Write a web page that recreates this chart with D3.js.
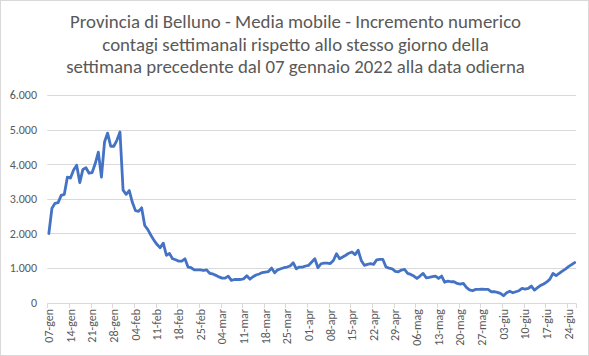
<!DOCTYPE html>
<html>
<head>
<meta charset="utf-8">
<script src="https://cdn.jsdelivr.net/npm/d3@7"></script>
<style>
  html, body { margin: 0; padding: 0; background: #fff; }
  svg { display: block; }
  text { font-family: Carlito, Calibri, Lato, "Open Sans", sans-serif; fill: #595959; }
</style>
</head>
<body>
<svg id="chart" width="589" height="356"></svg>
<script>
// ---- data ----
const titleLines = [
  "Provincia di Belluno - Media mobile - Incremento numerico",
  "contagi settimanali rispetto allo stesso giorno della",
  "settimana precedente dal 07 gennaio 2022 alla data odierna"
];
const startDate = "2022-01-07";
// daily values, 07-gen ... 26-giu
const values = [
  2000, 2730, 2870, 2890, 3100, 3130, 3630, 3600, 3830, 3970,
  3470, 3850, 3900, 3740, 3760, 4020, 4350, 3630, 4640, 4900,
  4520, 4520, 4690, 4930, 3250, 3130, 3240, 2900, 2660, 2640,
  2740, 2230, 2110, 1950, 1800, 1680, 1590, 1720, 1370, 1420,
  1270, 1240, 1200, 1200, 1270, 1030, 1010, 950, 950, 950,
  930, 950, 850, 830, 790, 745, 710, 710, 767, 645,
  670, 670, 670, 690, 780, 680, 750, 800, 830, 870,
  885, 900, 1000, 864, 950, 980, 1010, 1030, 1060, 1155,
  980, 1029, 1029, 1060, 1080, 1175, 1270, 1010, 1125, 1145,
  1145, 1130, 1220, 1415, 1270, 1320, 1370, 1430, 1465, 1390,
  1515, 1220, 1080, 1107, 1126, 1107, 1240, 1250, 1250, 1030,
  1000, 980, 905, 894, 942, 960, 846, 817, 770, 700,
  770, 846, 720, 730, 750, 770, 700, 770, 590, 625,
  605, 605, 557, 540, 557, 440, 370, 346, 385, 385,
  390, 385, 385, 317, 317, 298, 270, 202, 288, 330,
  288, 317, 346, 413, 394, 413, 480, 365, 433, 500,
  540, 600, 680, 846, 780, 846, 913, 970, 1040, 1100, 1160
];
const tickLabels = [
  "07-gen","14-gen","21-gen","28-gen","04-feb","11-feb","18-feb","25-feb",
  "04-mar","11-mar","18-mar","25-mar","01-apr","08-apr","15-apr","22-apr",
  "29-apr","06-mag","13-mag","20-mag","27-mag","03-giu","10-giu","17-giu","24-giu"
];
const tickStep = 7;
const yTicks = [0, 1000, 2000, 3000, 4000, 5000, 6000];

// ---- chart ----
(function () {
const svg = d3.select("#chart");
const W = 589, H = 356;
const pLeft = 47.3, pRight = 576.2, pTop = 95, pBottom = 302.7;

svg.append("rect").attr("x", 0.5).attr("y", 0.5).attr("width", W - 1).attr("height", H - 1)
  .attr("fill", "#fff").attr("stroke", "#d9d9d9").attr("stroke-width", 1);

// title
const title = svg.append("g").selectAll("text").data(titleLines).join("text")
  .attr("x", 295.5)
  .attr("y", (d, i) => 28.3 + i * 22.45)
  .attr("text-anchor", "middle")
  .style("font-size", "18px")
  .text(d => d);
const w0 = title.node().getComputedTextLength();
const fs = 18 * 451 / w0;
title.style("font-size", fs + "px");

const x = d3.scaleLinear().domain([0, values.length]).range([pLeft, pRight]);
const y = d3.scaleLinear().domain([0, 6000]).range([pBottom, pTop]);

// gridlines
svg.append("g").selectAll("line").data(yTicks.filter(v => v > 0)).join("line")
  .attr("x1", pLeft).attr("x2", pRight)
  .attr("y1", d => Math.round(y(d)) + 0.5).attr("y2", d => Math.round(y(d)) + 0.5)
  .attr("stroke", "#d9d9d9").attr("stroke-width", 1);

// y axis labels
const yAxis = d3.axisLeft(y).tickValues(yTicks).tickSize(0).tickPadding(0)
  .tickFormat(d => d3.format(",")(d).replace(/,/g, "."));
const yg = svg.append("g").attr("transform", "translate(37,0)").call(yAxis);
yg.select(".domain").remove();
yg.attr("font-family", null).attr("font-size", null);
yg.selectAll("text").style("font-size", "12px").attr("fill", "#595959");

// x axis
const tickIdx = tickLabels.map((d, i) => i * tickStep);
const xg = svg.append("g");
xg.append("line").attr("x1", pLeft).attr("x2", pRight)
  .attr("y1", Math.round(pBottom) + 0.5).attr("y2", Math.round(pBottom) + 0.5)
  .attr("stroke", "#d9d9d9").attr("stroke-width", 1);
xg.selectAll("line.tick").data(tickIdx.concat([values.length])).join("line")
  .attr("class", "tick")
  .attr("x1", d => Math.round(x(d)) + 0.5).attr("x2", d => Math.round(x(d)) + 0.5)
  .attr("y1", Math.round(pBottom) + 0.5).attr("y2", Math.round(pBottom) + 5)
  .attr("stroke", "#d9d9d9").attr("stroke-width", 1);
xg.selectAll("text").data(tickLabels).join("text")
  .attr("transform", (d, i) => `translate(${x(tickIdx[i] + 0.5)},309) rotate(-90)`)
  .attr("text-anchor", "end")
  .attr("dy", "0.35em")
  .style("font-size", "12px")
  .text(d => d);

// line
const line = d3.line()
  .x((d, i) => x(i + 0.5))
  .y(d => y(d));
svg.append("path").datum(values)
  .attr("d", line)
  .attr("fill", "none")
  .attr("stroke", "#4472c4")
  .attr("stroke-width", 2.8)
  .attr("stroke-linejoin", "round")
  .attr("stroke-linecap", "round");
})();
</script>
</body>
</html>
